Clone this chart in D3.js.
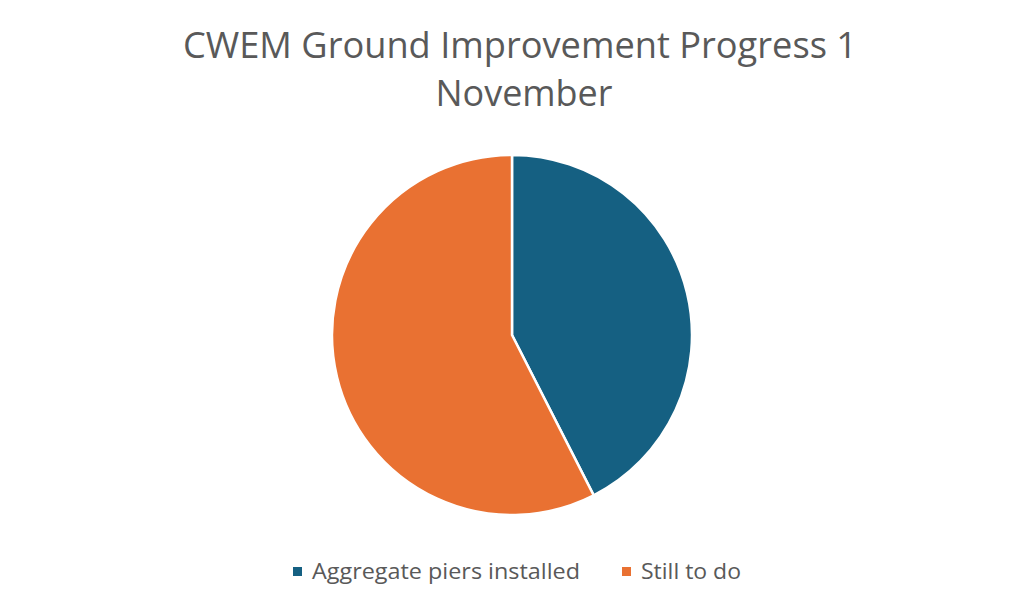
<!DOCTYPE html>
<html><head><meta charset="utf-8">
<script src="https://cdn.jsdelivr.net/npm/d3@7"></script>
<style>body{margin:0;background:#fff;}svg{display:block;}</style>
</head><body>
<script>
const categories = ["Aggregate piers installed", "Still to do"];
const values = [42.5, 57.5];
const colors = ["#156082", "#E97132"];
const titleLines = ["CWEM Ground Improvement Progress 1", "November"];

const W = 1023, H = 613;
const svg = d3.select("body").append("svg").attr("width", W).attr("height", H);
const font = "'Open Sans', Roboto, sans-serif";

const titleLen = [674, 177];
svg.selectAll("text.title").data(titleLines).enter().append("text")
  .attr("class","title")
  .attr("x", (d,i)=> i===0 ? 520 : 524).attr("y", (d,i)=> 58 + i*48)
  .attr("text-anchor","middle")
  .attr("font-family", font).attr("font-size", 36)
  .attr("textLength", (d,i)=>titleLen[i]).attr("lengthAdjust","spacingAndGlyphs")
  .attr("fill", "#595959").text(d=>d);

const cx = 512, cy = 335, r = 180;
const pie = d3.pie().sort(null).value(d=>d)(values);
const arc = d3.arc().innerRadius(0).outerRadius(r);
svg.append("g").attr("transform",`translate(${cx},${cy})`)
  .selectAll("path").data(pie).enter().append("path")
  .attr("d", arc).attr("fill",(d,i)=>colors[i])
  .attr("stroke","#fff").attr("stroke-width",2.5).attr("stroke-linejoin","round");

const legendX = [293, 622];
const legendLen = [268, 100];
const lg = svg.append("g");
categories.forEach((c,i)=>{
  lg.append("rect").attr("x", legendX[i]).attr("y", 567).attr("width",9).attr("height",9).attr("fill",colors[i]);
  lg.append("text").attr("x", legendX[i]+19).attr("y", 579)
    .attr("font-family", font).attr("font-size", 22)
    .attr("textLength", legendLen[i]).attr("lengthAdjust","spacingAndGlyphs")
    .attr("fill","#595959").text(c);
});
</script>
</body></html>
